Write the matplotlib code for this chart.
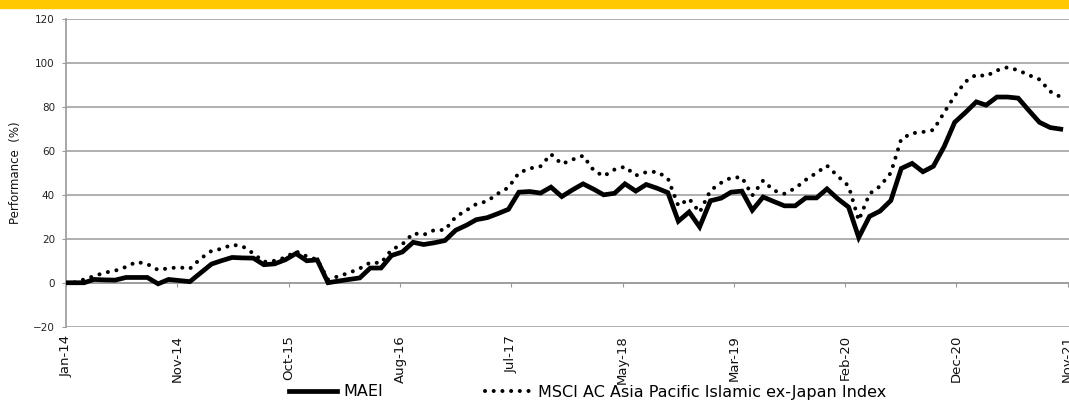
import numpy as np
import pandas as pd
import matplotlib
matplotlib.use('Agg')
import matplotlib.pyplot as plt
from matplotlib.patches import Rectangle

# cumulative performance (%), base point then monthly readings
maei = [0, 0, 0, 1.5, 1.3, 1.2, 2.4, 2.4, 2.4, -0.5, 1.5, 1.0, 0.5,
        4.5, 8.5, 10, 11.5, 11.3, 11.2, 8.2, 8.6, 10.5, 13.3, 10, 10.4,
        0, 0.8, 1.5, 2.2, 6.7, 6.7, 12.4, 14, 18.4, 17.4, 18.2, 19.2,
        23.9, 26.2, 28.7, 29.6, 31.4, 33.4, 41.2, 41.5, 40.8, 43.5, 39.2,
        42.2, 45, 42.5, 40, 40.7, 45, 41.7, 44.7, 43, 41, 28, 32.2, 25.4,
        37.3, 38.5, 41.2, 41.7, 33, 39, 37, 35, 35, 38.6, 38.6, 42.7, 38.2,
        34.4, 20.6, 30.2, 32.6, 37.4, 52, 54.3, 50.5, 53, 62, 73, 77.5,
        82.3, 80.8, 84.5, 84.5, 84, 78.5, 73, 70.6, 69.9]
msci = [0, 0, 1.5, 3.0, 4.6, 5.5, 7.2, 9.5, 8.5, 5.8, 6.6, 7.0, 6.4,
        11, 14.5, 15.4, 17.3, 16.6, 13.3, 9.5, 10, 11.5, 14.3, 12, 10.5,
        1.5, 3.0, 4.5, 6.5, 9.2, 9.0, 15, 17.5, 22.5, 21.8, 24, 24,
        30, 33, 35.8, 37.1, 40.5, 43.3, 50, 52, 53, 58.5, 54,
        56, 57.8, 51, 48.5, 51.5, 52.8, 48.8, 50.3, 50.5, 47.5, 35, 38.2, 32,
        42, 45.5, 47.8, 48, 39.7, 46.5, 42, 40.5, 43, 46.8, 50, 53.3, 48.5,
        44, 28.4, 40.5, 43.9, 50, 65.5, 68, 68.6, 69.5, 77.5, 85, 91.5,
        94.7, 94, 96.6, 98, 96.7, 94.5, 92.5, 87, 84.5]

start = pd.Timestamp('2014-01-01')
dates = [start] + list(pd.date_range('2014-01-22', periods=len(maei) - 1,
                                     freq=pd.DateOffset(months=1)))

tick_labels = ['Jan-14', 'Nov-14', 'Oct-15', 'Aug-16', 'Jul-17',
               'May-18', 'Mar-19', 'Feb-20', 'Dec-20', 'Nov-21']
tick_dates = [start + pd.Timedelta(days=319 * k) for k in range(len(tick_labels))]

grid_c = '#9a9a9a'

fig = plt.figure(figsize=(10.69, 4.01), dpi=100)
fig.patches.append(Rectangle((0, 1 - 7.5 / 401), 1, 7.5 / 401, transform=fig.transFigure,
                             color='#ffc800', zorder=0))

ax = fig.add_axes([66 / 1069, 74.3 / 401, 1008.7 / 1069, 307.7 / 401])
l1, = ax.plot(dates, maei, color='black', lw=3.4, solid_joinstyle='miter', zorder=3)
l2, = ax.plot(dates, msci, color='black', lw=2.9, linestyle=(0, (0.01, 2.15)),
              dash_capstyle='round', zorder=3)

ax.set_xlim(start, start + pd.Timedelta(days=2891))
ax.set_ylim(-20, 120)
ax.set_yticks(np.arange(-20, 121, 20))
ax.grid(axis='y', color=grid_c, lw=1.1)
ax.set_axisbelow(True)

for s in ['top', 'right']:
    ax.spines[s].set_visible(False)
ax.spines['left'].set_color(grid_c)
ax.spines['left'].set_linewidth(1.2)
ax.spines['bottom'].set_position(('data', 0))
ax.spines['bottom'].set_color(grid_c)
ax.spines['bottom'].set_linewidth(1.1)

ax.set_xticks(tick_dates)
ax.set_xticklabels(tick_labels, rotation=90, fontsize=9.5, color='#111111')
ax.tick_params(axis='x', length=3, color=grid_c, pad=34.5)
ax.tick_params(axis='y', length=3, color=grid_c, pad=5, labelsize=7.5, labelcolor='#222222')

ax.set_ylabel('Performance  (%)', fontsize=8.5, color='#111111')
ax.yaxis.set_label_coords(-44 / 1008.7, 0.5)

fig.legend([l1, l2], ['MAEI', 'MSCI AC Asia Pacific Islamic ex-Japan Index'],
           loc='center', bbox_to_anchor=(588 / 1069, 9 / 401), ncol=2, frameon=False,
           fontsize=11.5, handlelength=2.95, handletextpad=0.4, columnspacing=6.4,
           borderaxespad=0, borderpad=0)

fig.savefig('out.png', dpi=100)
